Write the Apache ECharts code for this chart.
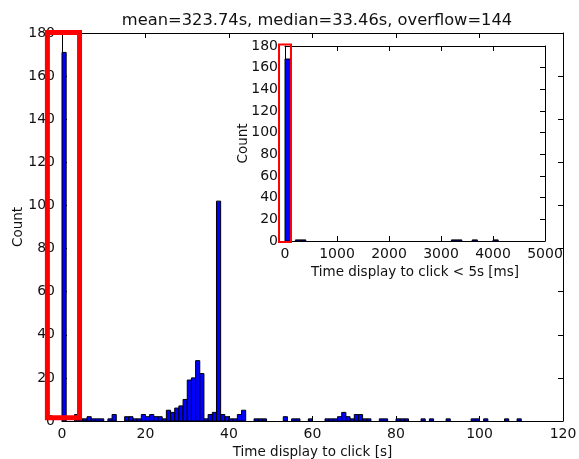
<!DOCTYPE html>
<html><head><meta charset="utf-8">
<script src="https://cdn.jsdelivr.net/npm/echarts@6/dist/echarts.min.js"></script>
<style>html,body{margin:0;padding:0;background:#fff}#c{width:579px;height:459px}</style>
</head><body><div id="c"></div>
<script>
const titleText = 'mean=323.74s, median=33.46s, overflow=144';
const mainXName = 'Time display to click [s]';
const insetXName = 'Time display to click < 5s [ms]';
const yName = 'Count';

// main histogram: 1 s bins (bin start in s) and counts
const mainBinWidth = 1;
const mainBinStarts = [0, 3, 4, 5, 6, 7, 8, 9, 11, 12, 15, 16, 17, 18, 19, 20, 21, 22, 23, 24,
  25, 26, 27, 28, 29, 30, 31, 32, 33, 34, 35, 36, 37, 38, 39, 40, 41, 42, 43,
  46, 47, 48, 53, 55, 56, 59, 63, 64, 65, 66, 67, 68, 69, 70, 71, 72, 73, 76, 77,
  80, 81, 82, 86, 88, 92, 98, 99, 101, 106, 109];
const mainCounts = [171, 3, 1, 1, 2, 1, 1, 1, 1, 3, 2, 2, 1, 1, 3, 2, 3, 2, 2, 1,
  5, 4, 6, 7, 10, 19, 20, 28, 22, 1, 3, 4, 102, 3, 2, 1, 1, 3, 5,
  1, 1, 1, 2, 1, 1, 1, 1, 1, 1, 2, 4, 2, 1, 3, 3, 1, 1, 1, 1,
  1, 1, 1, 1, 1, 1, 1, 1, 1, 1, 1];

// inset histogram: 100 ms bins (bin start in ms) and counts
const insetBinWidth = 100;
const insetBinStarts = [0, 200, 300, 3200, 3300, 3600, 4000];
const insetCounts = [168, 1, 1, 1, 1, 1, 1];

// highlight boxes [x0, y0, x1, y1] in data units
const mainBox = [-3.5, 1.5, 4.2, 180.2];
const insetBox = [-115, -1, 115, 181.5];

const FONT = 'DejaVu Sans';
const TXT = '#111';

const mainData = mainBinStarts.map((s, i) => [s, s + mainBinWidth, mainCounts[i]]);
const insetData = insetBinStarts.map((s, i) => [s, s + insetBinWidth, insetCounts[i]]);

function barItem(params, api) {
  const p0 = api.coord([api.value(0), 0]);
  const p1 = api.coord([api.value(1), api.value(2)]);
  return {type: 'rect',
    shape: {x: p0[0], y: p1[1], width: p1[0] - p0[0], height: p0[1] - p1[1]},
    style: {fill: '#0000ff', stroke: '#000', lineWidth: 1}};
}
function boxItem(lw) {
  return function (params, api) {
    const a = api.coord([api.value(0), api.value(1)]);
    const b = api.coord([api.value(2), api.value(3)]);
    return {type: 'rect',
      shape: {x: Math.min(a[0], b[0]), y: Math.min(a[1], b[1]), width: Math.abs(b[0] - a[0]), height: Math.abs(b[1] - a[1])},
      style: {fill: 'none', stroke: '#ff0000', lineWidth: lw}};
  };
}

const lineStyle = {color: '#000', width: 1};
function xAx(grid, min, max, interval, pos, labels, name, gap) {
  return {gridIndex: grid, type: 'value', min: min, max: max, interval: interval, position: pos,
    axisLine: {show: true, onZero: false, lineStyle: lineStyle},
    axisTick: {show: true, inside: true, length: 5, lineStyle: lineStyle},
    axisLabel: {show: labels, color: TXT, fontFamily: FONT, fontSize: 14, margin: 6,
      formatter: v => String(v)},
    splitLine: {show: false},
    name: labels ? name : '', nameLocation: 'middle', nameGap: gap || 0, nameMoveOverlap: false,
    nameTextStyle: {color: TXT, fontFamily: FONT, fontSize: 13.5}};
}
function yAx(grid, pos, labels, gap) {
  return {gridIndex: grid, type: 'value', min: 0, max: 180, interval: 20, position: pos,
    axisLine: {show: true, onZero: false, lineStyle: lineStyle},
    axisTick: {show: true, inside: true, length: 5, lineStyle: lineStyle},
    axisLabel: {show: labels, color: TXT, fontFamily: FONT, fontSize: 14, margin: 7},
    splitLine: {show: false},
    name: labels ? yName : '', nameLocation: 'middle', nameGap: gap, nameMoveOverlap: false,
    nameTextStyle: {color: TXT, fontFamily: FONT, fontSize: 13.5}};
}

const chart = echarts.init(document.getElementById('c'), null, {renderer: 'canvas'});
chart.setOption({
  backgroundColor: '#fff',
  animation: false,
  title: {text: titleText, left: 312, textAlign: 'center', top: 8,
    textStyle: {color: TXT, fontFamily: FONT, fontSize: 16.3, fontWeight: 'normal'}},
  grid: [
    {left: 62, top: 33, width: 501, height: 388, outerBoundsMode: 'none', containLabel: false},
    {left: 285, top: 46, width: 260, height: 195, outerBoundsMode: 'none', containLabel: false}
  ],
  xAxis: [
    xAx(0, 0, 120, 20, 'bottom', true, mainXName, 24),
    xAx(0, 0, 120, 20, 'top', false, ''),
    xAx(1, 0, 5000, 1000, 'bottom', true, insetXName, 24),
    xAx(1, 0, 5000, 1000, 'top', false, '')
  ],
  yAxis: [
    yAx(0, 'left', true, 37),
    yAx(0, 'right', false, 0),
    yAx(1, 'left', true, 35),
    yAx(1, 'right', false, 0)
  ],
  series: [
    {type: 'custom', xAxisIndex: 0, yAxisIndex: 0, renderItem: barItem, data: mainData,
      encode: {x: [0, 1], y: 2}, clip: false, z: 2},
    {type: 'custom', xAxisIndex: 2, yAxisIndex: 2, renderItem: barItem, data: insetData,
      encode: {x: [0, 1], y: 2}, clip: false, z: 2},
    {type: 'custom', xAxisIndex: 0, yAxisIndex: 0, renderItem: boxItem(5), data: [mainBox],
      encode: {x: [0, 2], y: [1, 3]}, clip: false, z: 10, silent: true},
    {type: 'custom', xAxisIndex: 2, yAxisIndex: 2, renderItem: boxItem(2), data: [insetBox],
      encode: {x: [0, 2], y: [1, 3]}, clip: false, z: 10, silent: true}
  ]
});
</script></body></html>
